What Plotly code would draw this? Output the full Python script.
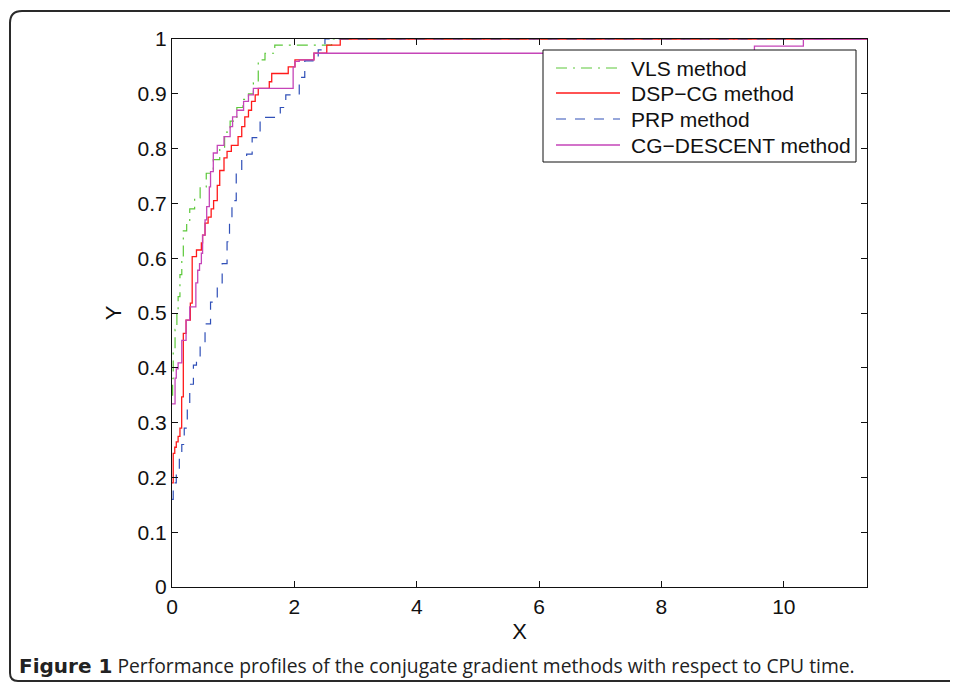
import plotly.graph_objects as go

# ---------------- data ----------------
X_MAX = 11.36

vls_x = [0, 0.01, 0.02, 0.05, 0.08, 0.10, 0.13, 0.16, 0.185, 0.24, 0.29, 0.37, 0.46,
         0.56, 0.675, 0.78, 0.86, 0.95, 1.06, 1.16, 1.25, 1.33, 1.41, 1.52, 1.68, 2.61, X_MAX]
vls_y = [0.35, 0.38, 0.43, 0.47, 0.50, 0.53, 0.57, 0.60, 0.65, 0.665, 0.69, 0.71, 0.73,
         0.755, 0.78, 0.80, 0.83, 0.85, 0.875, 0.89, 0.90, 0.92, 0.962, 0.974, 0.989, 1.0, 1.0]

dsp_x = [0, 0.02, 0.045, 0.07, 0.10, 0.13, 0.158, 0.185, 0.23, 0.30, 0.33, 0.40, 0.48,
         0.50, 0.54, 0.59, 0.64, 0.68, 0.74, 0.78, 0.85, 0.90, 0.97, 1.08, 1.14, 1.19,
         1.25, 1.30, 1.36, 1.41, 1.59, 1.63, 1.90, 2.01, 2.32, 2.53, 2.75, X_MAX]
dsp_y = [0.19, 0.244, 0.255, 0.265, 0.275, 0.29, 0.347, 0.463, 0.487, 0.518, 0.603, 0.615, 0.628,
         0.642, 0.664, 0.675, 0.69, 0.705, 0.733, 0.76, 0.783, 0.795, 0.806, 0.822, 0.84, 0.858,
         0.87, 0.886, 0.898, 0.91, 0.922, 0.937, 0.949, 0.962, 0.974, 0.989, 1.0, 1.0]

prp_x = [0, 0.02, 0.07, 0.12, 0.16, 0.20, 0.25, 0.29, 0.35, 0.40, 0.46, 0.54, 0.63, 0.74,
         0.82, 0.90, 0.94, 0.98, 1.05, 1.14, 1.22, 1.31, 1.44, 1.77, 1.86, 2.08, 2.17, 2.39, 2.50, X_MAX]
prp_y = [0.16, 0.19, 0.21, 0.235, 0.26, 0.29, 0.33, 0.37, 0.405, 0.415, 0.445, 0.48, 0.52, 0.555,
         0.59, 0.63, 0.665, 0.705, 0.755, 0.78, 0.79, 0.82, 0.857, 0.875, 0.898, 0.93, 0.96, 0.98, 1.0, 1.0]

cgd_x = [0, 0.05, 0.07, 0.10, 0.16, 0.23, 0.29, 0.39, 0.42, 0.45, 0.48, 0.50, 0.54, 0.567,
         0.61, 0.63, 0.675, 0.74, 0.85, 0.95, 0.99, 1.06, 1.17, 1.25, 1.33, 1.98, 2.01, 2.08,
         2.32, 9.52, 10.32, X_MAX]
cgd_y = [0.334, 0.381, 0.398, 0.409, 0.45, 0.487, 0.511, 0.555, 0.578, 0.59, 0.609, 0.642, 0.67, 0.694,
         0.73, 0.758, 0.792, 0.806, 0.822, 0.84, 0.858, 0.87, 0.886, 0.898, 0.91, 0.949, 0.959, 0.962,
         0.974, 0.987, 1.0, 1.0]

series_names = ["VLS method", "DSP\u2212CG method", "PRP method", "CG\u2212DESCENT method"]
x_ticks = [0, 2, 4, 6, 8, 10]
y_ticks = [0, 0.1, 0.2, 0.3, 0.4, 0.5, 0.6, 0.7, 0.8, 0.9, 1]
y_tick_text = ["0", "0.1", "0.2", "0.3", "0.4", "0.5", "0.6", "0.7", "0.8", "0.9", "1"]
caption_bold = "Figure 1"
caption_text = " Performance profiles of the conjugate gradient methods with respect to CPU time."

# ---------------- figure ----------------
PAGE_W, PAGE_H, OFF = 958, 684, 8          # browser window; default body margin 8px
L, R, T, B = 172, 867, 39, 587             # plot-area box in window pixels


def px(xp):
    return (xp - L) / (R - L)


def py(yp):
    return (B - yp) / (B - T)


styles = [
    dict(color="#5cc83a", width=1.2, dash="11px,6px,2px,6px"),
    dict(color="#ff1a1a", width=1.3, dash="solid"),
    dict(color="#3050b8", width=1.2, dash="10px,9px"),
    dict(color="#c545b8", width=1.3, dash="solid"),
]
data = [(vls_x, vls_y), (dsp_x, dsp_y), (prp_x, prp_y), (cgd_x, cgd_y)]

fig = go.Figure()
for (xs, ys), name, st in zip(data, series_names, styles):
    fig.add_trace(go.Scatter(x=xs, y=ys, mode="lines", name=name,
                             line=dict(shape="hv", **st)))

FONT = "Liberation Sans, Arial, sans-serif"
axis_font = dict(family=FONT, size=21, color="#111")

fig.update_layout(
    width=PAGE_W - OFF, height=PAGE_H - OFF,
    margin=dict(l=L - OFF, r=PAGE_W - R, t=T - OFF, b=PAGE_H - B, pad=0),
    paper_bgcolor="white", plot_bgcolor="white",
    showlegend=False,
    xaxis=dict(range=[0, X_MAX], tickvals=x_ticks, ticktext=[str(v) for v in x_ticks],
               showgrid=False, zeroline=False, showline=True, linecolor="#111", linewidth=1,
               mirror="ticks", ticks="inside", ticklen=6, tickcolor="#111",
               tickfont=axis_font, ticklabelstandoff=1,
               title=dict(text="X", font=dict(family=FONT, size=22, color="#111"), standoff=6)),
    yaxis=dict(range=[0, 1], tickvals=y_ticks, ticktext=y_tick_text,
               showgrid=False, zeroline=False, showline=True, linecolor="#111", linewidth=1,
               mirror="ticks", ticks="inside", ticklen=6, tickcolor="#111",
               tickfont=axis_font, ticklabelstandoff=0,
               title=dict(text="Y", font=dict(family=FONT, size=22, color="#111"), standoff=9)),
)

# legend box (drawn above the curves, like the original)
fig.add_shape(type="rect", xref="paper", yref="paper", layer="above",
              x0=px(543), x1=px(856), y0=py(162), y1=py(50),
              fillcolor="white", line=dict(color="#111", width=1))
row_y = [68, 93, 119, 145]
for name, st, yy in zip(series_names, styles, row_y):
    fig.add_shape(type="line", xref="paper", yref="paper", layer="above",
                  x0=px(556), x1=px(620), y0=py(yy), y1=py(yy),
                  line=dict(color=st["color"], width=st["width"], dash=st["dash"]))
    fig.add_annotation(xref="paper", yref="paper", x=px(629), y=py(yy),
                       xanchor="left", yanchor="middle", showarrow=False, text=name,
                       font=dict(family=FONT, size=21, color="#111"))

# rounded outer frame
x0, y0, x1, y1, r = 10, 11, 990, 681, 12
path = (f"M {px(x0)},{py(y1 - 8)} L {px(x0)},{py(y0 + r)} "
        f"Q {px(x0)},{py(y0)} {px(x0 + r)},{py(y0)} L {px(x1)},{py(y0)} "
        f"M {px(x0)},{py(y1 - 8)} Q {px(x0)},{py(y1)} {px(x0 + 8)},{py(y1)} L {px(x1)},{py(y1)}")
fig.add_shape(type="path", xref="paper", yref="paper", path=path,
              line=dict(color="#2a2a2a", width=2))

fig.add_annotation(xref="paper", yref="paper", x=px(17), y=py(665),
                   xanchor="left", yanchor="middle", showarrow=False,
                   text=(f"<span style='font-family:DejaVu Sans, sans-serif;font-size:20px'>"
                         f"<b>{caption_bold}</b></span>{caption_text}"),
                   font=dict(family="Open Sans, sans-serif", size=19.3, color="#222"))

fig.write_html("out.html")
